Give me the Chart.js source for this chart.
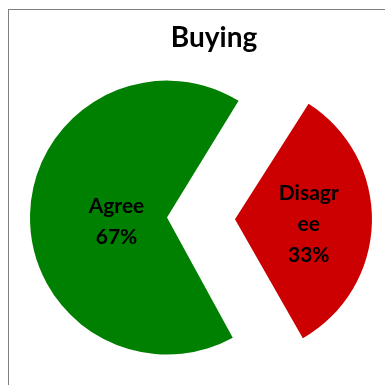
<!DOCTYPE html>
<html>
<head>
<meta charset="utf-8">
<script src="https://cdn.jsdelivr.net/npm/chart.js@4"></script>
<style>
  body { margin: 0; background: #fff; overflow: hidden; }
  #frame {
    position: absolute; left: 8px; top: 9px;
    width: 410px; height: 410px;
    border: 1px solid #808080;
  }
</style>
</head>
<body>
<div id="frame"><canvas id="chart1"></canvas></div>
<script>
const categories = ['Agree', 'Disagree']
const shares = [67, 33]
const sliceColors = ['#008000', '#cc0000']

// empty box on the right so the pie sits left of the title's center
const rightGap = {
  id: 'rightGap',
  beforeInit(chart, args, opts) {
    Chart.layouts.addBox(chart, {
      position: 'right',
      weight: 0,
      fullSize: false,
      options: {},
      isHorizontal: () => false,
      update(maxWidth, maxHeight) {
        this.width = opts.width
        this.height = maxHeight
      },
      draw() {}
    })
  }
}

// writes "name percent" inside each slice, wrapping long words by character
const sliceLabels = {
  id: 'sliceLabels',
  afterDatasetsDraw(chart, args, opts) {
    const { ctx } = chart
    const meta = chart.getDatasetMeta(0)
    ctx.save()
    ctx.font = 'bold 21px Lato'
    ctx.fillStyle = '#000'
    ctx.textAlign = 'center'
    ctx.textBaseline = 'middle'
    meta.data.forEach((arc, i) => {
      const { x, y, startAngle, endAngle, outerRadius } = arc.getProps(['x', 'y', 'startAngle', 'endAngle', 'outerRadius'])
      const mid = (startAngle + endAngle) / 2
      // arcs are pushed out by offset / 4
      const r = arc.options.offset / 4 + outerRadius * opts.place[i]
      const cx = x + Math.cos(mid) * r
      const cy = y + Math.sin(mid) * r + opts.dy[i]

      const lines = []
      let cur = ''
      for (const ch of chart.data.labels[i]) {
        if (ctx.measureText(cur + ch).width > opts.maxWidth) {
          lines.push(cur)
          cur = ch
        } else cur += ch
      }
      lines.push(cur)
      lines.push(chart.data.datasets[0].data[i] + '%')

      const top = cy - (lines.length - 1) * opts.lineHeight / 2
      lines.forEach((t, k) => ctx.fillText(t, cx, top + k * opts.lineHeight))
    })
    ctx.restore()
  }
}

new Chart('chart1', {
  type: 'pie',
  data: {
    labels: categories,
    datasets: [{
      data: shares,
      backgroundColor: sliceColors,
      borderWidth: 0,
      // the small slice gets a bigger offset so both end up the same size
      offset: [30, 242]
    }]
  },
  options: {
    responsive: true,
    maintainAspectRatio: false,
    animation: false,
    rotation: 150.8,
    radius: 129.5,
    layout: { padding: { left: 0, right: 0, top: 0, bottom: 49 } },
    plugins: {
      legend: { display: false },
      tooltip: { enabled: false },
      title: {
        display: true,
        text: 'Buying',
        color: '#000',
        font: { family: 'Lato', size: 28, weight: 'bold' },
        padding: { top: 11, bottom: 10 }
      },
      rightGap: { width: 79 },
      sliceLabels: { place: [0.39, 0.57], maxWidth: 68, lineHeight: 31, dy: [5, 3] }
    }
  },
  plugins: [rightGap, sliceLabels]
})
</script>
</body>
</html>
